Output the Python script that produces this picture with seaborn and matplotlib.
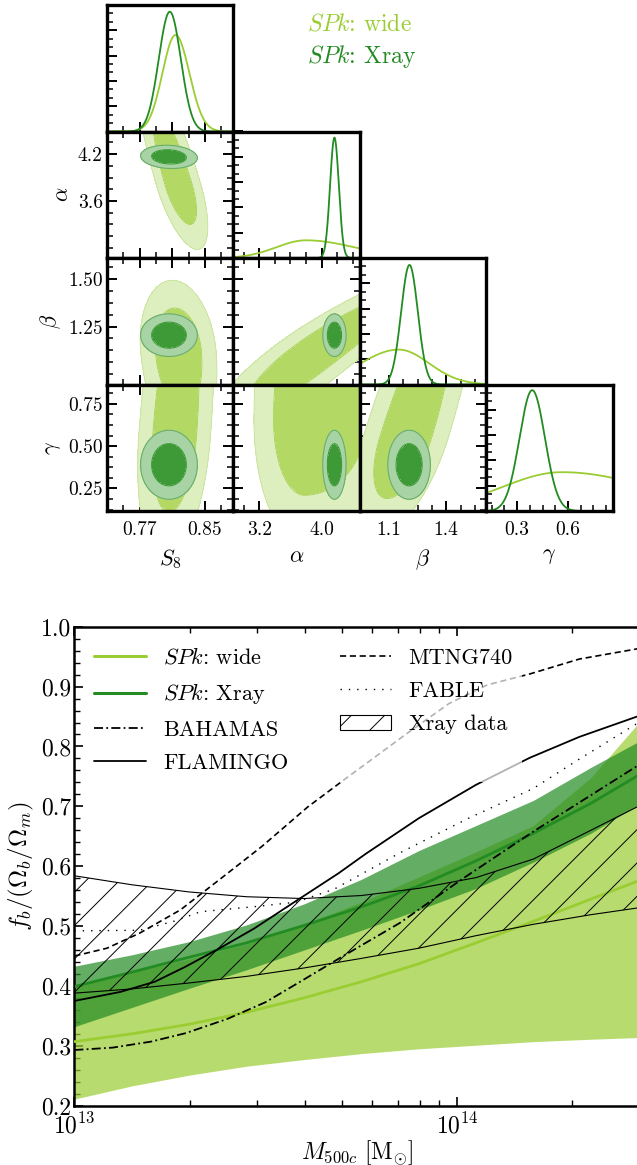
import numpy as np
import matplotlib
matplotlib.use("Agg")
import matplotlib.pyplot as plt
from matplotlib.lines import Line2D
from matplotlib.patches import Patch
from matplotlib.ticker import (MultipleLocator, FixedLocator, FuncFormatter,
                               AutoMinorLocator, NullFormatter, LogLocator,
                               FormatStrFormatter)
import seaborn as sns

sns.set_theme(style="ticks")
plt.rcParams.update({
    "font.family": ["cmr10", "DejaVu Sans"],
    "mathtext.fontset": "cm",
    "axes.formatter.use_mathtext": True,
    "axes.unicode_minus": False,
    "hatch.linewidth": 0.7,
    "axes.edgecolor": "black",
    "axes.labelcolor": "black",
    "text.color": "black",
    "xtick.color": "black",
    "ytick.color": "black",
})

WIDE_C = "#9acd32"
XRAY_C = "#228b22"
WIDE_OUTER, WIDE_INNER = "#ddeebf", "#b3d964"
WIDE_OUTER_EDGE, WIDE_INNER_EDGE = "#c9e39c", "#a6d04f"
XRAY_OUTER, XRAY_INNER = "#a8d3a5", "#3d9a37"
XRAY_OUTER_EDGE, XRAY_INNER_EDGE = "#6aae67", "#3d9a37"

# ---------------- corner plot: posterior summaries ----------------
PARAM_NAMES = [r"$S_8$", r"$\alpha$", r"$\beta$", r"$\gamma$"]
PARAM_LIMS = [(0.730, 0.885), (2.87, 4.49), (0.946, 1.61), (0.117, 0.864)]

# 1D marginals (wide run is skewed: mode, sigma below, sigma above)
WIDE_MODE = [0.814, 3.80, 1.15, 0.565]
WIDE_SIG_LO = [0.016, 0.38, 0.20, 0.36]
WIDE_SIG_HI = [0.017, 0.62, 0.16, 0.53]
WIDE_PEAK = [0.763, 0.14, 0.276, 0.307]
XRAY_MEAN = [0.807, 4.165, 1.207, 0.389]
XRAY_SIG = [0.0135, 0.056, 0.044, 0.075]
XRAY_PEAK = [0.947, 0.952, 0.945, 0.955]

# 2D wide posteriors: y-parameter marginal + x-parameter ridge along y
WIDE_2D_PAIRS = [(1, 0), (2, 0), (3, 0), (2, 1), (3, 1), (3, 2)]
WIDE_2D_YMODE = [3.80, 1.12, 0.565, 1.12, 0.65, 0.55]
WIDE_2D_YLO = [0.33, 0.20, 0.30, 0.20, 0.29, 0.237]
WIDE_2D_YHI = [0.65, 0.15, 0.60, 0.21, 0.50, 0.50]
WIDE_2D_XRIDGE = [0.818, 0.8175, 0.813, 3.953, 3.78, 1.187]
WIDE_2D_XSLOPE = [-0.0278, -0.02, 0.015, 3.1, 0.0, 0.27]
WIDE_2D_XCURV = [0.0, 0.0, 0.0, 1.5, 0.0, 0.0]
WIDE_2D_XWLO = [0.011, 0.0186, 0.0177, 0.26, 0.26, 0.09]
WIDE_2D_XWHI = [0.011, 0.0186, 0.0177, 0.26, 0.52, 0.09]

# 2D Xray posteriors (Gaussian)
XRAY_2D_MEAN = [0.806, 4.165, 1.205, 0.39]
XRAY_2D_SIG = [0.014, 0.060, 0.045, 0.082]
XRAY_2D_RHO = {(1, 0): -0.1, (2, 0): 0.0, (3, 0): 0.0,
               (2, 1): 0.0, (3, 1): 0.0, (3, 2): 0.0}

LEVELS = [2.30, 6.18]   # 68% and 95% regions

X_MAJOR = [[0.77, 0.81, 0.85], [3.2, 4.0], [1.1, 1.4], [0.3, 0.6]]
X_LABELED = [[0.77, 0.85], [3.2, 4.0], [1.1, 1.4], [0.3, 0.6]]
X_MINOR = [(0.02, 0.01), (0.2, 0.0), (0.075, 0.05), (0.075, 0.0)]
X_FMT = ["{:.2f}", "{:.1f}", "{:.1f}", "{:.1f}"]
Y_MAJOR = [None, [3.6, 4.2], [1.25, 1.50], [0.25, 0.50, 0.75]]
Y_MINOR = [None, (0.15, 0.0), (0.0625, 0.0), (0.0625, 0.0)]
Y_FMT = [None, "{:.1f}", "{:.2f}", "{:.2f}"]

# ---------------- baryon fraction panel ----------------
BAND_LOGM = [13.0, 13.15, 13.3, 13.45, 13.6, 13.75, 13.9, 14.05, 14.2, 14.35, 14.48]
WIDE_LO = [0.211, 0.233, 0.251, 0.266, 0.277, 0.287, 0.295, 0.301, 0.307, 0.311, 0.314]
WIDE_HI = [0.400, 0.423, 0.445, 0.470, 0.503, 0.540, 0.582, 0.624, 0.668, 0.748, 0.843]
WIDE_MED = [0.307, 0.320, 0.336, 0.356, 0.380, 0.407, 0.437, 0.472, 0.508, 0.545, 0.577]
XRAY_LO = [0.332, 0.364, 0.396, 0.427, 0.460, 0.493, 0.527, 0.563, 0.607, 0.655, 0.705]
XRAY_HI = [0.433, 0.452, 0.474, 0.502, 0.537, 0.578, 0.626, 0.668, 0.710, 0.765, 0.810]
XRAY_MED = [0.399, 0.423, 0.448, 0.472, 0.501, 0.532, 0.567, 0.609, 0.655, 0.705, 0.754]
XDATA_LO = [0.388, 0.395, 0.405, 0.416, 0.430, 0.446, 0.463, 0.484, 0.503, 0.519, 0.531]
XDATA_HI = [0.584, 0.569, 0.557, 0.549, 0.546, 0.551, 0.563, 0.581, 0.612, 0.660, 0.702]

MTNG_LOGM = [13.0, 13.085, 13.17, 13.277, 13.38, 13.49, 13.61, 13.70, 13.87, 13.98,
             14.08, 14.19, 14.32, 14.48]
MTNG_FB = [0.450, 0.463, 0.488, 0.527, 0.578, 0.633, 0.699, 0.742, 0.822, 0.872,
           0.903, 0.921, 0.946, 0.964]
FLAM_LOGM = [13.0, 13.12, 13.21, 13.29, 13.38, 13.47, 13.57, 13.69, 13.76, 13.90,
             14.05, 14.19, 14.32, 14.48]
FLAM_FB = [0.375, 0.390, 0.407, 0.432, 0.463, 0.496, 0.538, 0.588, 0.620, 0.680,
           0.736, 0.781, 0.816, 0.852]
BAHA_LOGM = [13.0, 13.10, 13.20, 13.29, 13.40, 13.50, 13.59, 13.70, 13.85, 14.01,
             14.20, 14.48]
BAHA_FB = [0.293, 0.297, 0.307, 0.321, 0.345, 0.373, 0.407, 0.449, 0.505, 0.577,
           0.658, 0.771]
FABLE_LOGM = [13.0, 13.17, 13.26, 13.33, 13.48, 13.58, 13.68, 13.85, 14.03, 14.20,
              14.31, 14.48]
FABLE_FB = [0.492, 0.493, 0.508, 0.524, 0.533, 0.540, 0.562, 0.622, 0.680, 0.730,
            0.775, 0.842]

DASH_MTNG = (0, (3.7, 2.2))
DASH_BAHA = (0, (5, 1.8, 1, 1.8))
DASH_FABLE = (0, (1, 5))


def split_z(val, mode, lo, hi):
    d = val - mode
    return np.where(d < 0, d / lo, d / hi)


FIG_W, FIG_H = 637, 1165
fig = plt.figure(figsize=(FIG_W / 100, FIG_H / 100), dpi=100)

CX0, CW = 107.0, 126.4
RY0, RH = 5.0, 126.5

axes = {}
for i in range(4):
    for j in range(i + 1):
        left = (CX0 + j * CW) / FIG_W
        bottom = 1 - (RY0 + (i + 1) * RH) / FIG_H
        ax = fig.add_axes([left, bottom, CW / FIG_W, RH / FIG_H])
        axes[(i, j)] = ax


def style_axis(ax, i, j):
    diag = i == j
    for s in ax.spines.values():
        s.set_linewidth(2.4)
        s.set_color("black")
    ax.set_xlim(*PARAM_LIMS[j])
    ax.xaxis.set_major_locator(FixedLocator(X_MAJOR[j]))
    step, off = X_MINOR[j]
    ax.xaxis.set_minor_locator(MultipleLocator(step, offset=off))
    labeled = X_LABELED[j]
    fmt = X_FMT[j]
    if i == 3:
        ax.xaxis.set_major_formatter(FuncFormatter(
            lambda v, p, lab=labeled, f=fmt: f.format(v)
            if any(abs(v - t) < 1e-6 for t in lab) else ""))
        ax.set_xlabel(PARAM_NAMES[j], fontsize=16, labelpad=6)
    else:
        ax.xaxis.set_major_formatter(NullFormatter())
    if diag:
        ax.set_ylim(0, 1.0)
        ax.yaxis.set_major_locator(MultipleLocator(0.2))
        ax.yaxis.set_minor_locator(AutoMinorLocator(3))
        ax.yaxis.set_major_formatter(NullFormatter())
        ax.tick_params(which="both", direction="in", top=False, right=False,
                       left=True, bottom=True)
    else:
        ax.set_ylim(*PARAM_LIMS[i])
        ax.yaxis.set_major_locator(FixedLocator(Y_MAJOR[i]))
        ystep, yoff = Y_MINOR[i]
        ax.yaxis.set_minor_locator(MultipleLocator(ystep, offset=yoff))
        if j == 0:
            yf = Y_FMT[i]
            ax.yaxis.set_major_formatter(FuncFormatter(lambda v, p, f=yf: f.format(v)))
            ax.set_ylabel(PARAM_NAMES[i], fontsize=16, labelpad=4)
        else:
            ax.yaxis.set_major_formatter(NullFormatter())
        ax.tick_params(which="both", direction="in", top=True, right=True,
                       left=True, bottom=True)
    ax.tick_params(which="major", length=7, width=1.4, labelsize=14)
    ax.tick_params(axis="x", which="major", pad=7)
    ax.tick_params(axis="y", which="major", pad=3)
    ax.tick_params(which="minor", length=4.2, width=1.1)
    ax.set_facecolor("white")


# 1D marginals
for k in range(4):
    ax = axes[(k, k)]
    grid = np.linspace(*PARAM_LIMS[k], 400)
    wide_curve = WIDE_PEAK[k] * np.exp(-0.5 * split_z(grid, WIDE_MODE[k],
                                                      WIDE_SIG_LO[k], WIDE_SIG_HI[k]) ** 2)
    xray_curve = XRAY_PEAK[k] * np.exp(-0.5 * ((grid - XRAY_MEAN[k]) / XRAY_SIG[k]) ** 2)
    sns.lineplot(x=grid, y=wide_curve, ax=ax, color=WIDE_C, lw=1.3)
    sns.lineplot(x=grid, y=xray_curve, ax=ax, color=XRAY_C, lw=1.3)
    style_axis(ax, k, k)

# 2D contours
for n, (i, j) in enumerate(WIDE_2D_PAIRS):
    ax = axes[(i, j)]
    xs = np.linspace(*PARAM_LIMS[j], 320)
    ys = np.linspace(*PARAM_LIMS[i], 320)
    X, Y = np.meshgrid(xs, ys)
    v = split_z(Y, WIDE_2D_YMODE[n], WIDE_2D_YLO[n], WIDE_2D_YHI[n])
    d = Y - WIDE_2D_YMODE[n]
    ridge = WIDE_2D_XRIDGE[n] + WIDE_2D_XSLOPE[n] * d + WIDE_2D_XCURV[n] * d ** 2
    w = split_z(X, ridge, WIDE_2D_XWLO[n], WIDE_2D_XWHI[n])
    Q = v ** 2 + w ** 2
    ax.contourf(X, Y, Q, levels=[-1.0] + LEVELS, colors=[WIDE_INNER, WIDE_OUTER], zorder=1)
    ax.contour(X, Y, Q, levels=LEVELS, colors=[WIDE_INNER_EDGE, WIDE_OUTER_EDGE],
               linewidths=0.6, zorder=1.5)

    rho = XRAY_2D_RHO[(i, j)]
    zx = (X - XRAY_2D_MEAN[j]) / XRAY_2D_SIG[j]
    zy = (Y - XRAY_2D_MEAN[i]) / XRAY_2D_SIG[i]
    Qx = (zx ** 2 - 2 * rho * zx * zy + zy ** 2) / (1 - rho ** 2)
    ax.contourf(X, Y, Qx, levels=[-1.0] + LEVELS, colors=[XRAY_INNER, XRAY_OUTER], zorder=2)
    ax.contour(X, Y, Qx, levels=LEVELS, colors=[XRAY_INNER_EDGE, XRAY_OUTER_EDGE],
               linewidths=0.8, zorder=2.5)
    style_axis(ax, i, j)

fig.text(307 / FIG_W, 1 - 24 / FIG_H, r"$SPk$: wide", color=WIDE_C, fontsize=17,
         ha="left", va="center")
fig.text(307 / FIG_W, 1 - 57 / FIG_H, r"$SPk$: Xray", color=XRAY_C, fontsize=17,
         ha="left", va="center")

# ---------------- baryon fraction panel ----------------
bx0, bx1 = 74.4, 639.5
by0, by1 = 626.7, 1105.7
axb = fig.add_axes([bx0 / FIG_W, 1 - by1 / FIG_H, (bx1 - bx0) / FIG_W, (by1 - by0) / FIG_H])
axb.set_xscale("log")
axb.set_xlim(1e13, 3e14)
axb.set_ylim(0.2, 1.0)

m_band = 10 ** np.array(BAND_LOGM)
axb.fill_between(m_band, WIDE_LO, WIDE_HI, color=WIDE_C, alpha=0.7, lw=0, zorder=1)
axb.fill_between(m_band, XRAY_LO, XRAY_HI, color=XRAY_C, alpha=0.7, lw=0, zorder=2)
sns.lineplot(x=m_band, y=WIDE_MED, ax=axb, color=WIDE_C, lw=2.0, zorder=3)
sns.lineplot(x=m_band, y=XRAY_MED, ax=axb, color=XRAY_C, lw=2.0, zorder=3)
axb.fill_between(m_band, XDATA_LO, XDATA_HI, facecolor="none", edgecolor="black",
                 hatch="/", lw=0.8, zorder=3.5)

sns.lineplot(x=10 ** np.array(MTNG_LOGM), y=MTNG_FB, ax=axb, color="black", lw=1.2,
             linestyle=DASH_MTNG, zorder=4)
sns.lineplot(x=10 ** np.array(FABLE_LOGM), y=FABLE_FB, ax=axb, color="black", lw=1.0,
             linestyle=DASH_FABLE, zorder=4)
sns.lineplot(x=10 ** np.array(BAHA_LOGM), y=BAHA_FB, ax=axb, color="black", lw=1.3,
             linestyle=DASH_BAHA, zorder=4)
sns.lineplot(x=10 ** np.array(FLAM_LOGM), y=FLAM_FB, ax=axb, color="black", lw=1.3,
             zorder=4)

for name, s in axb.spines.items():
    s.set_linewidth(1.8)
    s.set_color("black")
axb.yaxis.set_major_locator(MultipleLocator(0.1))
axb.yaxis.set_minor_locator(MultipleLocator(0.02))
axb.yaxis.set_major_formatter(FormatStrFormatter("%.1f"))
axb.xaxis.set_major_locator(LogLocator(base=10, numticks=10))
axb.xaxis.set_minor_locator(LogLocator(base=10, subs=np.arange(2, 10), numticks=20))
axb.xaxis.set_minor_formatter(NullFormatter())
axb.tick_params(which="both", direction="in", top=True, right=False, left=True, bottom=True)
axb.tick_params(which="major", length=6.5, width=1.2, labelsize=17)
axb.tick_params(which="minor", length=4, width=1.0)
axb.tick_params(axis="y", which="major", pad=2)
axb.tick_params(axis="x", which="major", pad=5)
axb.set_xlabel(r"$M_{500c}\ [\mathrm{M}_{\odot}]$", fontsize=17, labelpad=0)
axb.set_ylabel(r"$f_b/(\Omega_b/\Omega_m)$", fontsize=18, labelpad=4)
axb.set_facecolor("white")

handles = [
    Line2D([], [], color=WIDE_C, lw=2.2, label=r"$SPk$: wide"),
    Line2D([], [], color=XRAY_C, lw=2.2, label=r"$SPk$: Xray"),
    Line2D([], [], color="black", lw=1.3, linestyle=DASH_BAHA, label="BAHAMAS"),
    Line2D([], [], color="black", lw=1.3, label="FLAMINGO"),
    Line2D([], [], color="black", lw=1.2, linestyle=DASH_MTNG, label="MTNG740"),
    Line2D([], [], color="black", lw=1.0, linestyle=DASH_FABLE, label="FABLE"),
    Patch(facecolor="none", edgecolor="black", hatch="/", lw=0.8, label="Xray data"),
]
leg = axb.legend(handles=handles, loc="upper left", ncol=2, fontsize=16,
                 frameon=True, framealpha=0.7, fancybox=False,
                 handlelength=2.3, handletextpad=0.8, columnspacing=2.3,
                 labelspacing=0.62, borderaxespad=0.5, borderpad=0.4)
leg.get_frame().set_edgecolor("none")
leg.get_frame().set_facecolor("white")
leg.set_zorder(5)

fig.savefig("out.png", dpi=100, facecolor="white")
